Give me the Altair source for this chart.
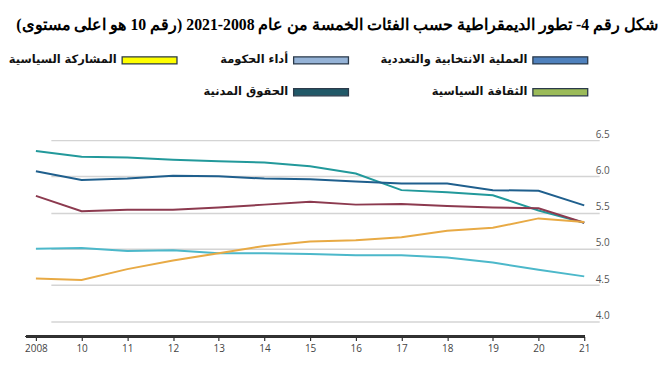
import altair as alt
import pandas as pd

# ---- data ----
x_labels = ["2008", "10", "11", "12", "13", "14", "15", "16", "17", "18", "19", "20", "21"]
civil_liberties = [6.35, 6.27, 6.26, 6.23, 6.21, 6.19, 6.14, 6.04, 5.81, 5.78, 5.74, 5.53, 5.36]
electoral = [6.07, 5.95, 5.97, 6.01, 6.00, 5.97, 5.96, 5.93, 5.90, 5.90, 5.81, 5.80, 5.60]
culture = [5.73, 5.52, 5.54, 5.54, 5.57, 5.61, 5.65, 5.61, 5.62, 5.59, 5.57, 5.56, 5.36]
government = [5.00, 5.01, 4.97, 4.98, 4.94, 4.94, 4.93, 4.91, 4.91, 4.88, 4.81, 4.71, 4.62]
participation = [4.59, 4.57, 4.72, 4.84, 4.94, 5.04, 5.10, 5.12, 5.16, 5.25, 5.29, 5.42, 5.37]

series_names = ["civil", "electoral", "culture", "government", "participation"]
series_values = [civil_liberties, electoral, culture, government, participation]
line_colors = ["#22999b", "#1f5f8d", "#8c3a4f", "#4cb8ca", "#e8aa45"]

legend_names = ["العملية الانتخابية والتعددية", "أداء الحكومة", "المشاركة السياسية",
                "الثقافة السياسية", "الحقوق المدنية"]
legend_colors = ["#4f81bd", "#95b3d7", "#ffff00", "#9bbb59", "#215968"]
legend_col = [0, 1, 2, 0, 1]
legend_row = [0, 0, 0, 1, 1]

title_text = "\u200fشكل رقم 4- تطور الديمقراطية حسب الفئات الخمسة من عام 2008-2021 (رقم 10 هو اعلى مستوى)\u200f"

rows = []
for name, vals in zip(series_names, series_values):
    for lab, v in zip(x_labels, vals):
        rows.append({"year": lab, "series": name, "value": v})
df = pd.DataFrame(rows)

leg = pd.DataFrame({"name": legend_names, "color": legend_colors,
                    "col": legend_col, "row": legend_row})

W = 585
H = 197

# ---- legend panel ----
lx = alt.X("col:Q", scale=alt.Scale(domain=[0, 1, 2], range=[536, 296, 124]), axis=None)
ly = alt.Y("row:Q", scale=alt.Scale(domain=[0, 1], range=[19, 51]), axis=None)
rect_path = "M-1,-0.13H1V0.13H-1Z"
swatch = alt.Chart(leg).mark_point(shape=rect_path, size=3025, filled=True, opacity=1,
                                   stroke="#2b3a4a", strokeWidth=1.3).encode(
    x=lx, y=ly, fill=alt.Fill("color:N", scale=None))
labels = alt.Chart(leg).mark_text(align="right", baseline="middle", dx=-33, dy=0,
                                  font="DejaVu Sans", fontSize=11.5, fontWeight="bold",
                                  color="#111").encode(x=lx, y=ly, text="name:N")
legend_panel = alt.layer(swatch, labels).properties(width=W, height=70)

# ---- line panel ----
x_enc = alt.X("year:O", sort=x_labels,
              scale=alt.Scale(type="point", range=[10, 560], padding=0),
              axis=alt.Axis(title=None, labelAngle=0, domain=False, ticks=True,
                            tickSize=4, tickColor="#333", tickWidth=1.2,
                            labelColor="#444", labelFont="Open Sans", labelFontSize=10,
                            labelPadding=3, grid=False))
y_enc = alt.Y("value:Q", scale=alt.Scale(domain=[3.79, 6.5], nice=False, zero=False),
              axis=alt.Axis(title=None, orient="right", values=[4.0, 4.5, 5.0, 5.5, 6.0, 6.5],
                            format=".1f", ticks=False, tickSize=0, domain=False,
                            labelAlign="right", labelBaseline="bottom", labelPadding=0,
                            labelOffset=-1, labelColor="#555", labelFont="Open Sans",
                            labelFontSize=10, grid=True, gridColor="#d4d4d4", gridWidth=1.5))
lines = alt.Chart(df).mark_line(strokeWidth=2).encode(
    x=x_enc, y=y_enc,
    color=alt.Color("series:N", scale=alt.Scale(domain=series_names, range=line_colors),
                    legend=None),
    detail="series:N")
baseline = alt.Chart(df).mark_rule(color="#333", strokeWidth=1.5).encode(
    x=alt.value(0), x2=alt.value(560), y=alt.value(H))
line_panel = alt.layer(lines, baseline).properties(width=W, height=H)

chart = alt.vconcat(legend_panel, line_panel, spacing=18).resolve_scale(
    x="independent", y="independent", color="independent"
).properties(
    title=alt.TitleParams(title_text, anchor="end", dx=49, offset=8,
                          font="Liberation Serif", fontSize=15.8, fontWeight="bold", color="#000"),
    padding={"left": 0, "top": 8, "right": 0, "bottom": 0},
).configure_view(stroke=None)

chart.save("out.html", embed_options={"renderer": "svg", "actions": False})
